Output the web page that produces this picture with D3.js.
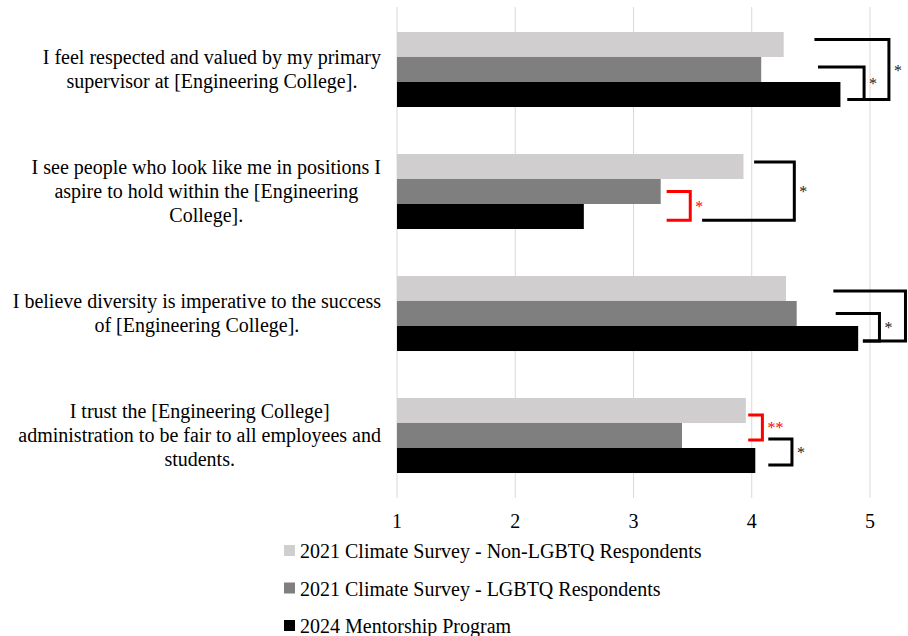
<!DOCTYPE html>
<html>
<head>
<meta charset="utf-8">
<script src="https://cdn.jsdelivr.net/npm/d3@7"></script>
<style>
  body { margin: 0; background: #fff; }
  text { font-family: "Liberation Serif", "Times New Roman", serif; }
</style>
</head>
<body>
<svg id="chart" width="908" height="636"></svg>
<script>
// chart data
var questions = [
    ['I feel respected and valued by my primary', 'supervisor at [Engineering College].'],
    ['I see people who look like me in positions I', 'aspire to hold within the [Engineering', 'College].'],
    ['I believe diversity is imperative to the success', 'of [Engineering College].'],
    ['I trust the [Engineering College]', 'administration to be fair to all employees and', 'students.']
];
var seriesNames = ['2021 Climate Survey - Non-LGBTQ Respondents',
                   '2021 Climate Survey - LGBTQ Respondents',
                   '2024 Mentorship Program'];
var nonLgbtq = [4.27, 3.93, 4.29, 3.95];
var lgbtq = [4.08, 3.23, 4.38, 3.41];
var mentorship = [4.75, 2.58, 4.90, 4.03];
var ticks = [1, 2, 3, 4, 5];

// significance brackets: question, top bar [series, frac], bottom bar [series, frac],
// x where top arm starts, x of the vertical, x where bottom arm starts, label, colour
// (the outer bracket of question 3 has its star past the right edge, so none is drawn)
var brackets = [
    {q: 0, top: [0, 0.3], bot: [2, 0.7], x0: 4.53, xv: 5.16, x1: 4.81, label: '*', color: 'black'},
    {q: 0, top: [1, 0.4], bot: [2, 0.7], x0: 4.56, xv: 4.95, x1: 4.81, label: '*', color: 'black'},
    {q: 1, top: [1, 0.5], bot: [2, 0.65], x0: 3.28, xv: 3.48, x1: 3.28, label: '*', color: 'red'},
    {q: 1, top: [0, 0.32], bot: [2, 0.65], x0: 4.02, xv: 4.36, x1: 3.58, label: '*', color: 'black'},
    {q: 2, top: [0, 0.6], bot: [2, 0.6], x0: 4.69, xv: 5.30, x1: 4.94, label: '', color: 'black'},
    {q: 2, top: [1, 0.5], bot: [2, 0.6], x0: 4.71, xv: 5.08, x1: 4.94, label: '*', color: 'black'},
    {q: 3, top: [0, 0.68], bot: [1, 0.68], x0: 3.97, xv: 4.09, x1: 3.97, label: '**', color: 'red'},
    {q: 3, top: [1, 0.64], bot: [2, 0.68], x0: 4.14, xv: 4.34, x1: 4.14, label: '*', color: 'black'}
];

var colors = ['#d0cece', '#7f7f7f', '#000000'];
var values = [nonLgbtq, lgbtq, mentorship];

var svg = d3.select('#chart');

var x = d3.scaleLinear().domain([1, 5]).range([397, 870]);
var y = d3.scaleBand().domain(d3.range(questions.length))
          .range([8.5, 496.5]).paddingInner(0.385).paddingOuter(0.1925);
var ySub = d3.scaleBand().domain([0, 1, 2]).range([0, y.bandwidth()]);

// gridlines
svg.append('g').selectAll('line')
    .data(ticks)
    .enter().append('line')
    .attr('x1', d => x(d)).attr('x2', d => x(d))
    .attr('y1', 7).attr('y2', 498)
    .attr('stroke', '#d9d9d9').attr('stroke-width', 1);

// tick labels
svg.append('g').selectAll('text')
    .data(ticks)
    .enter().append('text')
    .attr('x', d => x(d)).attr('y', 528)
    .attr('text-anchor', 'middle')
    .attr('font-size', 20)
    .attr('fill', '#000')
    .text(d => d);

// bars
var groups = svg.append('g').selectAll('g')
    .data(questions)
    .enter().append('g')
    .attr('transform', (d, i) => 'translate(0,' + y(i) + ')');

groups.selectAll('rect')
    .data((d, i) => values.map((v, s) => ({s: s, v: v[i]})))
    .enter().append('rect')
    .attr('x', x(1))
    .attr('y', d => ySub(d.s))
    .attr('width', d => x(d.v) - x(1))
    .attr('height', ySub.bandwidth())
    .attr('fill', d => colors[d.s]);

// question labels, lines centered inside a block that ends at the axis
groups.each(function(lines, i) {
    var g = d3.select(this);
    var t = g.append('text').attr('font-size', 20).attr('fill', '#000');
    var mid = y.bandwidth() / 2;
    var lh = 24;
    var first = mid - (lines.length - 1) * lh / 2 + 7;
    lines.forEach(function(l, k) {
        t.append('tspan').attr('y', first + k * lh).text(l);
    });
    var widths = [];
    t.selectAll('tspan').each(function() { widths.push(this.getComputedTextLength()); });
    var maxW = d3.max(widths);
    var cx = 381 - maxW / 2;
    t.selectAll('tspan').attr('x', cx).attr('text-anchor', 'middle');
});

// significance brackets
function bracketY(q, pos) {
    return y(q) + ySub(pos[0]) + pos[1] * ySub.bandwidth();
}

var br = svg.append('g').selectAll('g')
    .data(brackets)
    .enter().append('g');

br.append('path')
    .attr('d', function(d) {
        var yt = bracketY(d.q, d.top), yb = bracketY(d.q, d.bot);
        return 'M' + x(d.x0) + ',' + yt + 'H' + x(d.xv) + 'V' + yb + 'H' + x(d.x1);
    })
    .attr('fill', 'none')
    .attr('stroke', d => d.color)
    .attr('stroke-width', 3);

br.filter(d => d.label).append('text')
    .attr('x', d => x(d.xv) + 5)
    .attr('y', d => (bracketY(d.q, d.top) + bracketY(d.q, d.bot)) / 2 + 6)
    .attr('font-size', 16)
    .attr('fill', d => d.color === 'red' ? '#ff0000' : '#222')
    .text(d => d.label);

// legend
var legend = svg.append('g').selectAll('g')
    .data(seriesNames)
    .enter().append('g')
    .attr('transform', (d, i) => 'translate(284,' + (558 + i * 37.5) + ')');

legend.append('rect')
    .attr('x', 0).attr('y', -13)
    .attr('width', 11).attr('height', 11)
    .attr('fill', (d, i) => colors[i]);

legend.append('text')
    .attr('x', 16).attr('y', 0)
    .attr('font-size', 20)
    .attr('fill', '#000')
    .text(d => d);
</script>
</body>
</html>
